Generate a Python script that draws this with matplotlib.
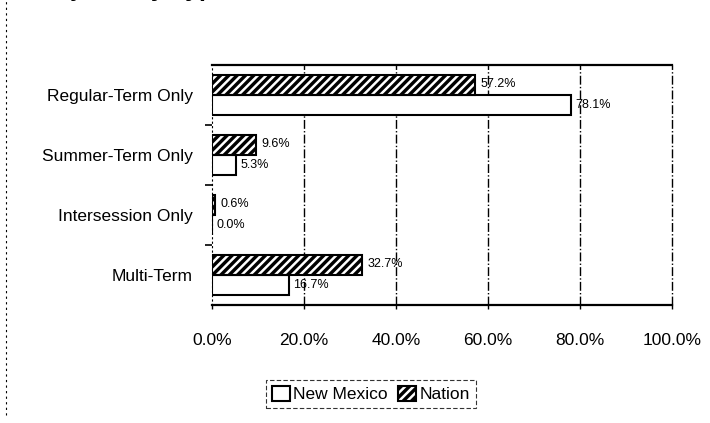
import matplotlib
matplotlib.use("Agg")
import matplotlib.pyplot as plt
from matplotlib.patches import Patch
from matplotlib.lines import Line2D
from matplotlib.legend_handler import HandlerTuple

categories = ["Regular-Term Only", "Summer-Term Only", "Intersession Only", "Multi-Term"]
new_mexico = [78.1, 5.3, 0.0, 16.7]
nation = [57.2, 9.6, 0.6, 32.7]
xticks = [0, 20, 40, 60, 80, 100]

plt.rcParams["font.family"] = ["Liberation Sans", "DejaVu Sans"]
plt.rcParams["hatch.linewidth"] = 1.8

fig = plt.figure(figsize=(7.1, 4.23), dpi=100)
ax = fig.add_axes([0.2986, 0.279, 0.6479, 0.567])

h = 1 / 3
ys = range(len(categories))
y_nat = [y - h / 2 for y in ys]
y_nm = [y + h / 2 for y in ys]

# nation: black fill with white stripes, then black outline on top
ax.barh(y_nat, nation, height=h, color="black", edgecolor="white", hatch="////", linewidth=0, zorder=3)
ax.barh(y_nat, nation, height=h, fill=False, edgecolor="black", linewidth=1.5, zorder=4)
ax.barh(y_nm, new_mexico, height=h, color="white", edgecolor="black", linewidth=1.5, zorder=3)

for y, v in zip(y_nat, nation):
    ax.annotate(f"{v:.1f}%", (v, y), xytext=(4, 1), textcoords="offset points",
                va="center", ha="left", fontsize=9)
for y, v in zip(y_nm, new_mexico):
    ax.annotate(f"{v:.1f}%", (v, y), xytext=(3, 0), textcoords="offset points",
                va="center", ha="left", fontsize=9)

ax.set_xlim(0, 100)
ax.set_ylim(3.5, -0.5)
ax.set_xticks(xticks)
ax.set_xticklabels([f"{t:.1f}%" for t in xticks], fontsize=12.5)
ax.set_yticks(list(ys))
ax.set_yticklabels(categories, fontsize=12.5)
ax.set_yticks([0.5, 1.5, 2.5], minor=True)
ax.tick_params(axis="y", which="major", length=0, pad=14)
ax.tick_params(axis="y", which="minor", length=5, width=1.2, direction="out")
ax.tick_params(axis="x", length=3, width=1, pad=17)

for x in xticks[1:]:
    ax.axvline(x, color="black", linestyle="-.", linewidth=1, zorder=1, clip_on=False)

ax.spines["right"].set_visible(False)
ax.spines["left"].set_linestyle((0, (1, 3)))
ax.spines["left"].set_linewidth(0.8)
ax.spines["top"].set_linewidth(1.6)
ax.spines["bottom"].set_linewidth(1.6)

# title cut off at the top edge of the scan, only its descenders show
fig.text(30 / 710, 1 + 4 / 423, "Projects by Type", fontsize=18, fontweight="bold",
         ha="left", va="baseline")

# page border on the left
fig.add_artist(Line2D([0.008, 0.008], [0.02, 1.0], color="black", linewidth=0.8,
                      linestyle=(0, (2, 3))))

nm_handle = Patch(facecolor="white", edgecolor="black", linewidth=1.5)
nat_handle = (Patch(facecolor="black", edgecolor="white", hatch="////", linewidth=0),
              Patch(fill=False, edgecolor="black", linewidth=1.5))
leg = fig.legend([nm_handle, nat_handle], ["New Mexico", "Nation"],
                 handler_map={tuple: HandlerTuple(ndivide=1, pad=0)},
                 loc="center", bbox_to_anchor=(0.5225, 0.0686), ncol=2,
                 fontsize=12.5, frameon=True, fancybox=False,
                 handlelength=1.0, handleheight=1.0, handletextpad=0.2,
                 columnspacing=0.6, borderpad=0.35, borderaxespad=0)
leg.get_frame().set_edgecolor("black")
leg.get_frame().set_linestyle((0, (4, 2)))
leg.get_frame().set_linewidth(0.8)

fig.savefig("out.png", dpi=100)
